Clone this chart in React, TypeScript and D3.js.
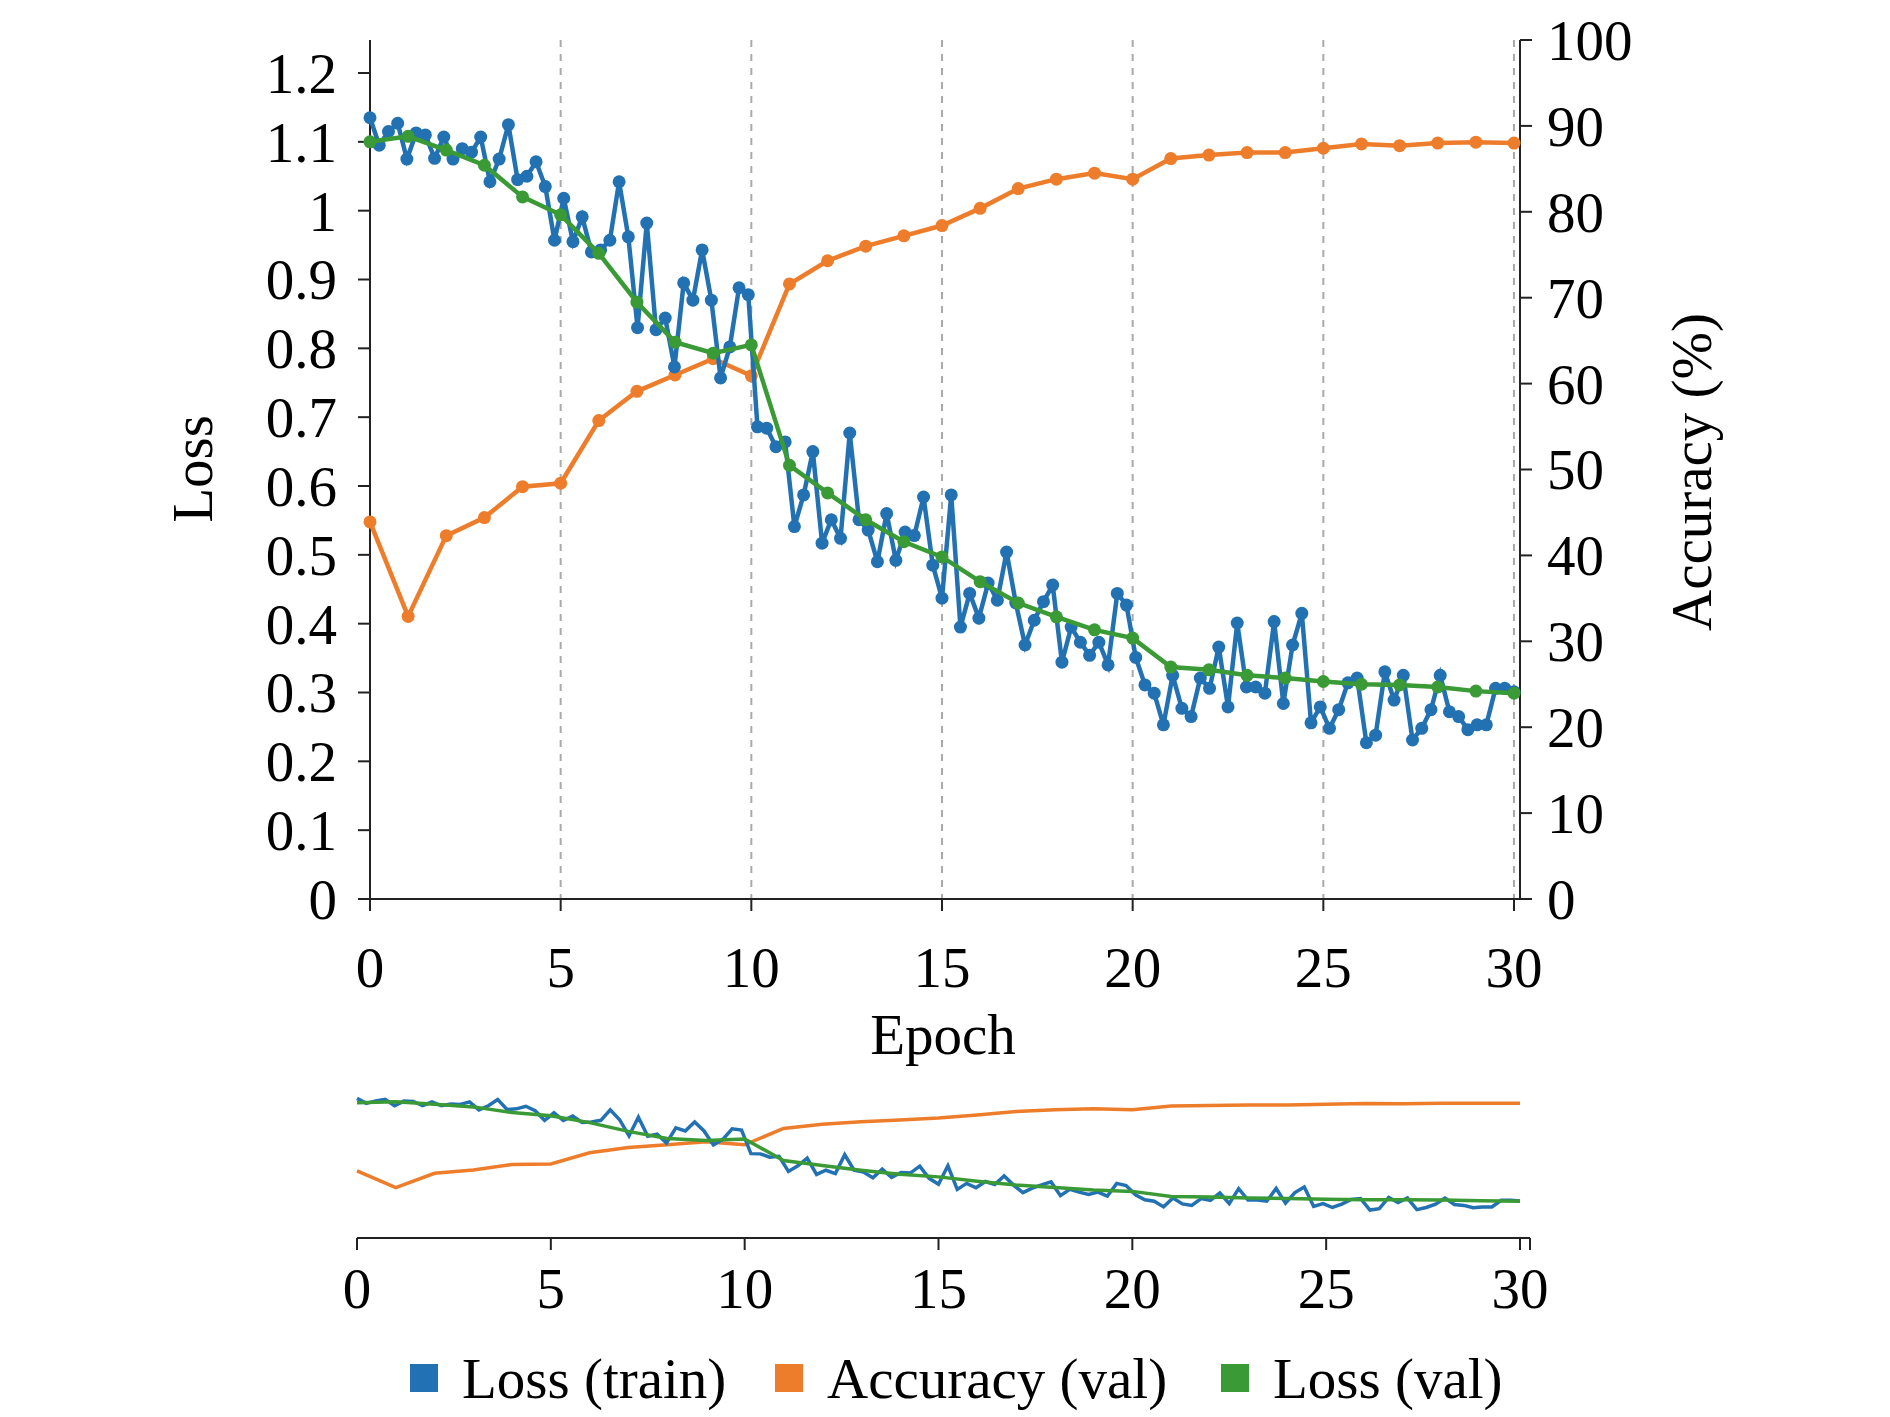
import React from 'react';
import * as d3 from 'd3';

const epochs = d3.range(0, 31);
const accVal = [43.9, 32.9, 42.3, 44.4, 48, 48.4, 55.7, 59.1, 61, 62.9, 60.9, 71.6, 74.3, 76, 77.2, 78.4, 80.4, 82.7, 83.8, 84.5, 83.8, 86.2, 86.6, 86.9, 86.9, 87.4, 87.9, 87.7, 88, 88.1, 88];
const lossVal = [1.1, 1.108, 1.088, 1.066, 1.02, 0.994, 0.938, 0.867, 0.809, 0.793, 0.805, 0.63, 0.59, 0.551, 0.519, 0.497, 0.461, 0.43, 0.41, 0.391, 0.379, 0.337, 0.333, 0.325, 0.321, 0.316, 0.312, 0.311, 0.308, 0.302, 0.299];
const lossTrain = [
  1.135, 1.095, 1.115, 1.127, 1.075, 1.113, 1.11, 1.076, 1.107, 1.075, 1.09, 1.085, 1.107, 1.042, 1.075, 1.125, 1.045, 1.05, 1.071, 1.035, 0.957,
  1.018, 0.955, 0.991, 0.94, 0.943, 0.957, 1.042, 0.962, 0.83, 0.982, 0.827, 0.844, 0.773, 0.895, 0.87, 0.943, 0.87, 0.757, 0.802, 0.888, 0.878,
  0.686, 0.684, 0.657, 0.664, 0.541, 0.587, 0.65, 0.517, 0.551, 0.524, 0.677, 0.551, 0.536, 0.49, 0.56, 0.492, 0.533, 0.528, 0.584, 0.485, 0.437,
  0.587, 0.395, 0.444, 0.408, 0.459, 0.434, 0.504, 0.43, 0.369, 0.405, 0.432, 0.456, 0.344, 0.395, 0.373, 0.354, 0.373, 0.34, 0.444, 0.427, 0.351,
  0.311, 0.299, 0.253, 0.325, 0.277, 0.265, 0.321, 0.306, 0.366, 0.279, 0.401, 0.308, 0.308, 0.299, 0.403, 0.284, 0.369, 0.415, 0.256, 0.279,
  0.248, 0.275, 0.314, 0.321, 0.227, 0.238, 0.33, 0.289, 0.325, 0.231, 0.248, 0.275, 0.325, 0.272, 0.265, 0.246, 0.253, 0.253, 0.306, 0.306, 0.301
];
const lossTicks = [0, 0.1, 0.2, 0.3, 0.4, 0.5, 0.6, 0.7, 0.8, 0.9, 1, 1.1, 1.2];
const accTicks = [0, 10, 20, 30, 40, 50, 60, 70, 80, 90, 100];
const xTicks = [0, 5, 10, 15, 20, 25, 30];

const BLUE = '#2271b3';
const ORANGE = '#ee7d2b';
const GREEN = '#3a9a35';
const FONT = '"Liberation Serif", "DejaVu Serif", serif';
const FS = 57;

export default function App() {
  const trainX = lossTrain.map((_, i) => (i * 30) / (lossTrain.length - 1));

  // main chart
  const x = d3.scaleLinear().domain([0, 30]).range([370, 1514]);
  const yL = d3.scaleLinear().domain([0, 1.2]).range([899, 73]);
  const yA = d3.scaleLinear().domain([0, 100]).range([899, 40]);
  // mini chart
  const mx = d3.scaleLinear().domain([0, 30]).range([357, 1520]);
  const myL = d3.scaleLinear().domain([0, 1.244]).range([1238, 1085]);
  const myA = d3.scaleLinear().domain([0, 100]).range([1238, 1085]);

  const lineT = d3.line<number>().x((_, i) => x(trainX[i])).y(d => yL(d));
  const lineV = d3.line<number>().x((_, i) => x(epochs[i])).y(d => yL(d));
  const lineA = d3.line<number>().x((_, i) => x(epochs[i])).y(d => yA(d));
  const mT = d3.line<number>().x((_, i) => mx(trainX[i])).y(d => myL(d));
  const mV = d3.line<number>().x((_, i) => mx(epochs[i])).y(d => myL(d));
  const mA = d3.line<number>().x((_, i) => mx(epochs[i])).y(d => myA(d));

  const legend = [
    { label: 'Loss (train)', color: BLUE, x: 410 },
    { label: 'Accuracy (val)', color: ORANGE, x: 775 },
    { label: 'Loss (val)', color: GREEN, x: 1221 },
  ];

  return (
    <svg width={1890} height={1417} style={{ position: 'absolute', left: 0, top: 0, background: '#fff' }}
      fontFamily={FONT} fontSize={FS}>
      {/* grid */}
      {xTicks.filter(t => t > 0).map(t => (
        <line key={t} x1={x(t)} x2={x(t)} y1={40} y2={899} stroke="#aaa" strokeWidth={2} strokeDasharray="7,7" />
      ))}
      {/* axes */}
      <line x1={370} x2={370} y1={40} y2={899} stroke="#222" strokeWidth={2} />
      <line x1={1520} x2={1520} y1={40} y2={899} stroke="#222" strokeWidth={2} />
      <line x1={370} x2={1520} y1={899} y2={899} stroke="#222" strokeWidth={2} />
      {lossTicks.map(t => (
        <g key={t}>
          <line x1={358} x2={370} y1={yL(t)} y2={yL(t)} stroke="#222" strokeWidth={2} />
          <text x={337} y={yL(t)} dy="0.35em" textAnchor="end">{t}</text>
        </g>
      ))}
      {accTicks.map(t => (
        <g key={t}>
          <line x1={1520} x2={1532} y1={yA(t)} y2={yA(t)} stroke="#222" strokeWidth={2} />
          <text x={1547} y={yA(t)} dy="0.35em">{t}</text>
        </g>
      ))}
      {xTicks.map(t => (
        <g key={t}>
          <line x1={x(t)} x2={x(t)} y1={899} y2={911} stroke="#222" strokeWidth={2} />
          <text x={x(t)} y={987} textAnchor="middle">{t}</text>
        </g>
      ))}
      <text x={943} y={1054} textAnchor="middle">Epoch</text>
      <text transform="translate(212,469) rotate(-90)" textAnchor="middle">Loss</text>
      <text transform="translate(1711,472) rotate(-90)" textAnchor="middle">Accuracy (%)</text>

      {/* series */}
      <path d={lineA(accVal) || ''} fill="none" stroke={ORANGE} strokeWidth={4.5} />
      {accVal.map((d, i) => <circle key={'a' + i} cx={x(epochs[i])} cy={yA(d)} r={6.5} fill={ORANGE} />)}
      <path d={lineT(lossTrain) || ''} fill="none" stroke={BLUE} strokeWidth={4.5} />
      {lossTrain.map((d, i) => <circle key={'t' + i} cx={x(trainX[i])} cy={yL(d)} r={6.5} fill={BLUE} />)}
      <path d={lineV(lossVal) || ''} fill="none" stroke={GREEN} strokeWidth={4.5} />
      {lossVal.map((d, i) => <circle key={'v' + i} cx={x(epochs[i])} cy={yL(d)} r={6.5} fill={GREEN} />)}

      {/* mini chart */}
      <path d={mA(accVal) || ''} fill="none" stroke={ORANGE} strokeWidth={3.5} />
      <path d={mT(lossTrain) || ''} fill="none" stroke={BLUE} strokeWidth={3.5} />
      <path d={mV(lossVal) || ''} fill="none" stroke={GREEN} strokeWidth={3.5} />
      <line x1={357} x2={1530} y1={1238} y2={1238} stroke="#222" strokeWidth={2} />
      <line x1={1530} x2={1530} y1={1238} y2={1250} stroke="#222" strokeWidth={2} />
      {xTicks.map(t => (
        <g key={'m' + t}>
          <line x1={mx(t)} x2={mx(t)} y1={1238} y2={1250} stroke="#222" strokeWidth={2} />
          <text x={mx(t)} y={1308} textAnchor="middle">{t}</text>
        </g>
      ))}

      {/* legend */}
      {legend.map(l => (
        <g key={l.label}>
          <rect x={l.x} y={1364} width={28} height={28} fill={l.color} />
          <text x={l.x + 52} y={1378} dy="0.35em">{l.label}</text>
        </g>
      ))}
    </svg>
  );
}
